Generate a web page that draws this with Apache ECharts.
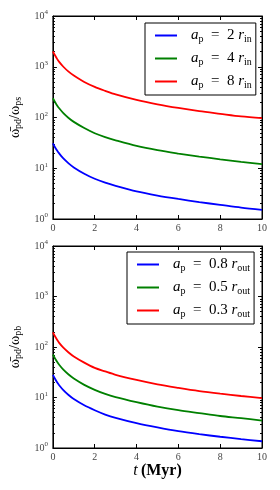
<!DOCTYPE html>
<html><head><meta charset="utf-8">
<script src="https://cdn.jsdelivr.net/npm/echarts@6/dist/echarts.min.js"></script>
<style>html,body{margin:0;padding:0;background:#fff}#c{width:280px;height:490px}</style>
</head><body><div id="c"></div>
<script>
// time samples (Myr)
const tValues = [0, 0.1, 0.2, 0.3, 0.5, 0.75, 1, 1.5, 2, 2.5, 3, 4, 5, 6, 7, 8, 9, 10];
// top panel: a_p = 2, 4, 8 r_in
const topBlue  = [31, 26, 22.3, 19.6, 15.6, 12.5, 10.4, 7.8, 6.2, 5.2, 4.5, 3.5, 2.9, 2.48, 2.15, 1.9, 1.68, 1.52];
const topGreen = [240, 202, 173, 152, 122, 98, 82, 62, 49, 41, 35.5, 27.5, 22.7, 19.5, 17, 15, 13.4, 12.1];
const topRed   = [2000, 1680, 1430, 1250, 1000, 800, 670, 500, 400, 335, 285, 222, 182, 154, 133, 118, 105, 97];
// bottom panel: a_p = 0.8, 0.5, 0.3 r_out
const botBlue  = [28, 23.5, 20, 17.5, 14, 11.2, 9.3, 7.0, 5.6, 4.6, 3.95, 3.1, 2.55, 2.15, 1.88, 1.67, 1.5, 1.36];
const botGreen = [71, 59.5, 51, 44.5, 35.5, 28.5, 23.8, 17.8, 14.2, 11.8, 10.2, 8.1, 6.6, 5.6, 4.9, 4.3, 3.9, 3.5];
const botRed   = [195, 163, 139, 121, 97, 78, 65, 49, 38.5, 32.8, 28.2, 22.3, 18.2, 15.5, 13.4, 11.9, 10.7, 9.7];
// legend labels
const topNames = ['a_p = 2 r_in', 'a_p = 4 r_in', 'a_p = 8 r_in'];
const botNames = ['a_p = 0.8 r_out', 'a_p = 0.5 r_out', 'a_p = 0.3 r_out'];
const xTicks = [0, 2, 4, 6, 8, 10];

const colors = ['#0000ff', '#008000', '#ff0000'];
const SERIF = "'Liberation Serif','DejaVu Serif',serif";

const minorVals = [];
for (let d = 1; d <= 1000; d *= 10) for (let k = 2; k <= 9; k++) minorVals.push(k * d);

function legendRich(name) {
  const m = name.match(/a_p = ([\d.]+) r_(\w+)/);
  return '{f|a}{s|p}{n|  =  ' + m[1] + ' }{i|r}{s|' + m[2] + '}';
}
const legRich = {
  f: {fontFamily: SERIF, fontStyle: 'italic', fontSize: 15, color: '#000', padding: [0, 0, 0, 9]},
  i: {fontFamily: SERIF, fontStyle: 'italic', fontSize: 15, color: '#000'},
  n: {fontFamily: SERIF, fontSize: 15, color: '#000'},
  s: {fontFamily: SERIF, fontSize: 10, color: '#000', padding: [7, 0, 0, 0]}
};
const tickRich = {
  b: {fontFamily: SERIF, fontSize: 10, color: '#444'},
  e: {fontFamily: SERIF, fontSize: 7, color: '#444', padding: [0, 0, 7, 0]}
};

function xAxes(gi, withName) {
  return [{
    gridIndex: gi, type: 'value', position: 'bottom', min: 0, max: 10, interval: 2,
    axisLine: {lineStyle: {color: '#000', width: 1}},
    axisTick: {inside: true, length: 4, lineStyle: {color: '#000'}},
    axisLabel: {margin: 4, fontFamily: SERIF, fontSize: 10, color: '#444',
      customValues: xTicks},
    splitLine: {show: false},
    name: withName ? '{i|t} {b|(Myr)}' : '', nameLocation: 'middle', nameGap: 14,
    nameTextStyle: {rich: {
      i: {fontFamily: SERIF, fontStyle: 'italic', fontSize: 16, color: '#000'},
      b: {fontFamily: SERIF, fontWeight: 'bold', fontSize: 16, color: '#000'}
    }}
  }, {
    gridIndex: gi, type: 'value', position: 'top', min: 0, max: 10, interval: 2,
    axisLine: {lineStyle: {color: '#000'}},
    axisTick: {inside: true, length: 4, lineStyle: {color: '#000'}},
    axisLabel: {show: false}, splitLine: {show: false}
  }];
}
function yAxes(gi, nameStr) {
  const base = {gridIndex: gi, type: 'log', logBase: 10, min: 1, max: 10000, splitLine: {show: false}};
  return [
    Object.assign({}, base, {
      position: 'left',
      axisLine: {show: true, lineStyle: {color: '#000'}},
      axisTick: {inside: true, length: 4, lineStyle: {color: '#000'}},
      axisLabel: {margin: 5, rich: tickRich,
        formatter: v => '{b|10}{e|' + Math.round(Math.log10(v)) + '}'},
      name: nameStr, nameLocation: 'middle', nameRotate: 90, nameGap: 21,
      nameTextStyle: {rich: {
        w: {fontFamily: SERIF, fontSize: 14, color: '#000'},
        s: {fontFamily: SERIF, fontSize: 10, color: '#000', padding: [7, 0, 0, 0]}
      }}
    }),
    Object.assign({}, base, {
      position: 'left', axisLine: {show: false},
      axisTick: {inside: true, length: 2, customValues: minorVals, lineStyle: {color: '#000'}},
      axisLabel: {show: false}
    }),
    Object.assign({}, base, {
      position: 'right',
      axisLine: {show: true, lineStyle: {color: '#000'}},
      axisTick: {inside: true, length: 4, lineStyle: {color: '#000'}},
      axisLabel: {show: false}
    }),
    Object.assign({}, base, {
      position: 'right', axisLine: {show: false},
      axisTick: {inside: true, length: 2, customValues: minorVals, lineStyle: {color: '#000'}},
      axisLabel: {show: false}
    })
  ];
}

function mk(name, vals, ci, xi, yi) {
  return {
    name: name, type: 'line', xAxisIndex: xi, yAxisIndex: yi,
    data: tValues.map((t, i) => [t, vals[i]]),
    symbol: 'none', smooth: 0.3,
    lineStyle: {color: colors[ci], width: 1.8}, itemStyle: {color: colors[ci]},
    animation: false
  };
}

const legBase = {
  orient: 'vertical', icon: 'rect', itemWidth: 22, itemHeight: 2, itemGap: 7,
  backgroundColor: '#fff', borderColor: '#000', borderWidth: 1,
  selectedMode: false, formatter: legendRich,
  textStyle: {rich: legRich}
};

const option = {
  animation: false,
  grid: [
    {left: 50, right: 18, top: 16, height: 203, show: true, borderColor: '#000', borderWidth: 1},
    {left: 50, right: 18, top: 246, height: 202, show: true, borderColor: '#000', borderWidth: 1}
  ],
  xAxis: [].concat(xAxes(0, false), xAxes(1, true)),
  yAxis: [].concat(
    yAxes(0, '{w|\u03c9\u0304}{s|pd}{w|/\u03c9}{s|ps}'),
    yAxes(1, '{w|\u03c9\u0304}{s|pd}{w|/\u03c9}{s|pb}')
  ),
  legend: [
    Object.assign({}, legBase, {data: topNames, left: 145, top: 23, padding: [5, 4, 5, 10]}),
    Object.assign({}, legBase, {data: botNames, left: 127, top: 252, padding: [5, 4, 5, 10]})
  ],
  series: [
    mk(topNames[0], topBlue, 0, 0, 0),
    mk(topNames[1], topGreen, 1, 0, 0),
    mk(topNames[2], topRed, 2, 0, 0),
    mk(botNames[0], botBlue, 0, 2, 4),
    mk(botNames[1], botGreen, 1, 2, 4),
    mk(botNames[2], botRed, 2, 2, 4)
  ]
};
echarts.init(document.getElementById('c'), null, {renderer: 'canvas'}).setOption(option);
</script></body></html>
